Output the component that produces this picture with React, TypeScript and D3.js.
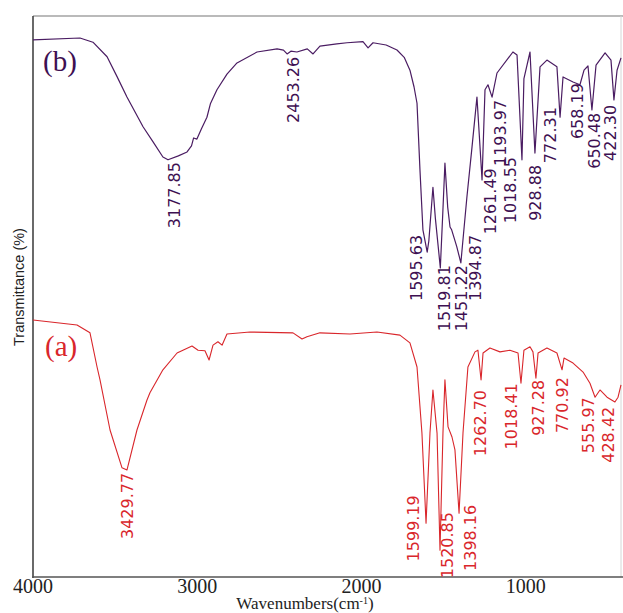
import React, { useEffect, useRef } from 'react';
import * as d3 from 'd3';

// x axis ticks (cm-1, reversed)
const xTicks = [4000, 3000, 2000, 1000];

// spectrum (b) – purple
const waveB = [4000, 3714, 3635, 3549, 3489, 3428, 3330, 3269, 3209, 3178, 3115, 3062, 3035, 3022, 3002, 2975, 2941, 2920, 2880, 2819, 2758, 2636, 2514, 2475, 2453, 2430, 2393, 2330, 2295, 2253, 2150, 2088, 1991, 1960, 1930, 1850, 1784, 1740, 1705, 1680, 1662, 1644, 1626, 1600, 1590, 1565, 1550, 1520, 1505, 1492, 1475, 1461, 1451, 1420, 1395, 1358, 1327, 1297, 1266, 1248, 1230, 1205, 1175, 1078, 1053, 1023, 1011, 974, 944, 913, 871, 810, 791, 773, 712, 670, 645, 621, 597, 572, 517, 481, 463, 444, 420];
const transB = [95.9, 96.25, 95.5, 92.9, 89.4, 85.7, 80.4, 77.7, 75.0, 74.5, 75.2, 75.9, 77.0, 78.4, 78.2, 80.0, 82.1, 84.5, 87.0, 89.8, 91.8, 93.75, 94.3, 94.1, 93.4, 93.9, 93.75, 94.3, 93.4, 94.8, 95.2, 95.4, 95.6, 94.5, 95.4, 95.0, 94.1, 92.8, 90.5, 87.5, 84.6, 72.7, 62.0, 58.0, 60.0, 69.6, 64.0, 55.2, 65.0, 73.9, 66.0, 62.5, 62.0, 59.0, 56.1, 67.9, 76.8, 85.7, 70.9, 87.0, 87.9, 85.7, 90.0, 93.75, 93.2, 74.5, 89.0, 93.75, 75.7, 91.1, 92.3, 91.1, 82.1, 89.3, 88.4, 87.9, 90.5, 91.25, 83.4, 91.4, 93.6, 92.3, 85.2, 90.5, 92.7];

// spectrum (a) – red
const waveA = [4000, 3732, 3653, 3610, 3592, 3531, 3458, 3428, 3367, 3306, 3288, 3209, 3123, 3032, 2995, 2953, 2928, 2904, 2874, 2849, 2819, 2679, 2417, 2362, 2332, 2253, 2070, 1906, 1766, 1705, 1662, 1632, 1607, 1583, 1565, 1540, 1522, 1504, 1492, 1473, 1449, 1431, 1406, 1382, 1352, 1309, 1291, 1272, 1260, 1218, 1157, 1096, 1047, 1029, 1011, 974, 956, 938, 925, 871, 810, 779, 767, 712, 651, 609, 578, 548, 505, 457, 438, 420];
const transA = [45.9, 45.0, 43.6, 37.5, 35.2, 26.25, 19.5, 19.1, 26.25, 31.6, 32.9, 37.0, 40.0, 41.25, 40.5, 40.4, 38.75, 41.4, 42.0, 41.4, 43.4, 43.75, 43.6, 42.5, 42.9, 43.6, 43.4, 43.75, 43.2, 41.8, 37.5, 25.7, 9.6, 25.7, 33.4, 25.7, 4.8, 25.7, 35.2, 26.8, 25.0, 22.7, 11.4, 25.7, 37.5, 40.2, 40.5, 35.2, 40.0, 40.9, 40.2, 40.5, 40.0, 34.6, 40.5, 41.1, 40.2, 35.5, 40.0, 40.9, 40.0, 37.0, 39.1, 38.2, 36.6, 34.6, 32.1, 33.4, 32.1, 31.25, 32.1, 34.3];

// peak labels: text, anchor wavenumber, anchor transmittance (top of label)
const labelsB = ['3177.85', '2453.26', '1595.63', '1519.81', '1451.22', '1394.87', '1261.49', '1193.97', '1018.55', '928.88', '772.31', '658.19', '650.48', '422.30'];
const labelWaveB = [3142, 2417, 1668, 1498, 1394, 1309, 1218, 1157, 1096, 944, 852, 688, 584, 487];
const labelTransB = [74.1, 92.9, 61.1, 55.7, 55.7, 61.1, 73.0, 85.2, 75.0, 73.6, 83.9, 88.2, 82.9, 84.3];

const labelsA = ['3429.77', '1599.19', '1520.85', '1398.16', '1262.70', '1018.41', '927.28', '770.92', '555.97', '428.42'];
const labelWaveA = [3428, 1686, 1479, 1339, 1279, 1090, 925, 779, 621, 499];
const labelTransA = [18.6, 14.6, 11.6, 12.9, 33.4, 34.6, 35.2, 35.7, 32.1, 30.4];

const purple = '#4a1c62';
const purpleText = '#3e1052';
const red = '#d9262b';

const App = () => {
  const ref = useRef<SVGSVGElement | null>(null);

  useEffect(() => {
    const width = 623;
    const height = 613;
    const left = 33;
    const right = 621;
    const top = 16;
    const bottom = 577;

    const svg = d3.select(ref.current);
    svg.selectAll('*').remove();

    const x = d3.scaleLinear().domain([4000, 420]).range([left, right]);
    const y = d3.scaleLinear().domain([0, 100]).range([bottom, top + 1]);

    // frame
    svg.append('line')
      .attr('x1', left).attr('x2', width).attr('y1', top).attr('y2', top)
      .attr('stroke', '#777').attr('stroke-width', 1.2);
    svg.append('line')
      .attr('x1', right).attr('x2', right).attr('y1', top).attr('y2', bottom)
      .attr('stroke', '#d6d6d6').attr('stroke-width', 1);
    svg.append('line')
      .attr('x1', left).attr('x2', left).attr('y1', top).attr('y2', bottom + 1)
      .attr('stroke', '#444').attr('stroke-width', 1.6);
    svg.append('line')
      .attr('x1', left - 1).attr('x2', width).attr('y1', bottom).attr('y2', bottom)
      .attr('stroke', '#555').attr('stroke-width', 1.6);

    // tick labels
    svg.append('g')
      .selectAll('text')
      .data(xTicks)
      .enter()
      .append('text')
      .attr('x', d => x(d))
      .attr('y', 593)
      .attr('text-anchor', 'middle')
      .attr('font-family', '"Liberation Serif", "Times New Roman", serif')
      .attr('font-size', '20px')
      .attr('fill', '#222')
      .text(d => d);

    // axis titles
    const xt = svg.append('text')
      .attr('x', 305)
      .attr('y', 609)
      .attr('text-anchor', 'middle')
      .attr('font-family', '"Liberation Serif", "Times New Roman", serif')
      .attr('font-size', '17px')
      .attr('fill', '#222');
    xt.append('tspan').text('Wavenumbers(cm');
    xt.append('tspan').attr('font-size', '10px').attr('dy', -5).text('-1');
    xt.append('tspan').attr('dy', 5).text(')');

    svg.append('text')
      .attr('transform', 'translate(24,287) rotate(-90)')
      .attr('text-anchor', 'middle')
      .attr('font-family', '"Liberation Sans", Arial, sans-serif')
      .attr('font-size', '14.5px')
      .attr('fill', '#222')
      .text('Transmittance (%)');

    // spectra
    const line = d3.line<number>()
      .x(d => x(d))
      .curve(d3.curveLinear);

    svg.append('path')
      .attr('d', line.y((d, i) => y(transB[i]))(waveB))
      .attr('fill', 'none')
      .attr('stroke', purple)
      .attr('stroke-width', 1.2)
      .attr('stroke-linejoin', 'round');

    svg.append('path')
      .attr('d', line.y((d, i) => y(transA[i]))(waveA))
      .attr('fill', 'none')
      .attr('stroke', red)
      .attr('stroke-width', 1.1)
      .attr('stroke-linejoin', 'round');

    // peak labels
    const drawLabels = (texts: string[], waves: number[], trans: number[], color: string) => {
      svg.append('g')
        .selectAll('text')
        .data(texts)
        .enter()
        .append('text')
        .attr('transform', (d, i) => 'translate(' + x(waves[i]) + ',' + y(trans[i]) + ') rotate(-90)')
        .attr('dy', '0.36em')
        .attr('text-anchor', 'end')
        .attr('font-family', '"DejaVu Sans", sans-serif')
        .attr('font-size', '16px')
        .attr('fill', color)
        .text(d => d);
    };
    drawLabels(labelsB, labelWaveB, labelTransB, purpleText);
    drawLabels(labelsA, labelWaveA, labelTransA, red);

    // series tags
    svg.append('text')
      .attr('x', 43).attr('y', 71)
      .attr('font-family', '"Liberation Serif", "Times New Roman", serif')
      .attr('font-size', '29px')
      .attr('fill', purpleText)
      .text('(b)');
    svg.append('text')
      .attr('x', 45).attr('y', 356)
      .attr('font-family', '"Liberation Serif", "Times New Roman", serif')
      .attr('font-size', '29px')
      .attr('fill', red)
      .text('(a)');

    svg.attr('width', width).attr('height', height);
  }, []);

  return (
    <svg
      ref={ref}
      width={623}
      height={613}
      style={{ position: 'absolute', left: 0, top: 0, background: '#fff' }}
    />
  );
};

export default App;
